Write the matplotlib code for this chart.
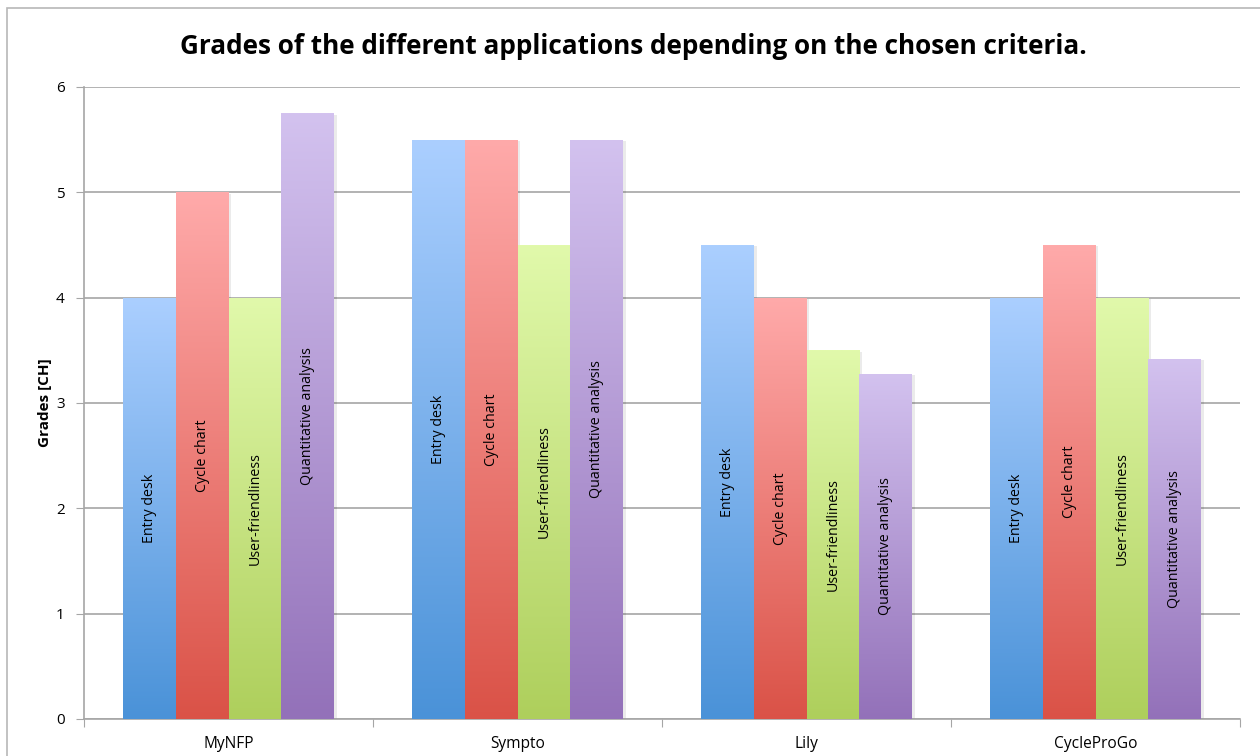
import numpy as np
import matplotlib.pyplot as plt
from matplotlib.colors import LinearSegmentedColormap
from matplotlib.patches import Rectangle
import matplotlib.patheffects as pe

plt.rcParams['font.family'] = ['Open Sans', 'DejaVu Sans']

# data
apps = ['MyNFP', 'Sympto', 'Lily', 'CycleProGo']
criteria = ['Entry desk', 'Cycle chart', 'User-friendliness', 'Quantitative analysis']
entry_desk = [4.0, 5.5, 4.5, 4.0]
cycle_chart = [5.0, 5.5, 4.0, 4.5]
user_friendliness = [4.0, 4.5, 3.5, 4.0]
quant_analysis = [5.75, 5.5, 3.28, 3.42]
series = [entry_desk, cycle_chart, user_friendliness, quant_analysis]

# gradient colours (top, bottom) for each criterion
grads = [('#abcfff', '#4a92d8'),
         ('#ffaaaa', '#da5247'),
         ('#e1f9ab', '#aecf5c'),
         ('#d3c2ef', '#9371b9')]

fig = plt.figure(figsize=(12.6, 7.56), dpi=100)
fig.patches.append(Rectangle((7 / 1260, -0.1), 1.2, 1 - 8 / 756 + 0.1,
                             transform=fig.transFigure, fill=False,
                             edgecolor='#b8b8b8', lw=1.2))
ax = fig.add_axes([84 / 1260, 1 - 719 / 756, 1156 / 1260, 632 / 756])

x = np.arange(len(apps))
w = 0.1825
grad = np.linspace(0, 1, 256).reshape(-1, 1)

for i, vals in enumerate(series):
    pos = x + (i - 1.5) * w
    bars = ax.bar(pos, vals, width=w, color='white', zorder=2,
                  path_effects=[pe.SimplePatchShadow(offset=(2, -1), alpha=0.08, shadow_rgbFace='k'),
                                pe.Normal()])
    cmap = LinearSegmentedColormap.from_list('g%d' % i, [grads[i][1], grads[i][0]])
    for b, v, p in zip(bars, vals, pos):
        x0 = b.get_x()
        im = ax.imshow(grad, cmap=cmap, aspect='auto', origin='lower',
                       extent=[x0, x0 + b.get_width(), 0, v], zorder=3)
        im.set_clip_path(b)
        ax.text(p, v / 2, criteria[i], rotation=90, ha='center', va='center',
                fontsize=10.3, zorder=4)

ax.set_xlim(-0.5, len(apps) - 0.5)
ax.set_ylim(0, 6)
ax.set_yticks(range(7))
ax.yaxis.grid(True, color='#a6a6a6', lw=1.2, zorder=0)
ax.set_axisbelow(True)

ax.set_xticks(np.arange(-0.5, len(apps)), [''] * (len(apps) + 1))
ax.set_xticks(x, apps, minor=True)
ax.tick_params(axis='x', which='minor', length=0, pad=12, labelsize=11.2)
ax.tick_params(axis='x', which='major', length=6, color='#a6a6a6')
ax.tick_params(axis='y', length=6, color='#a6a6a6', labelsize=11, pad=8)

for s in ['top', 'right']:
    ax.spines[s].set_visible(False)
for s in ['left', 'bottom']:
    ax.spines[s].set_color('#a6a6a6')
    ax.spines[s].set_linewidth(1.2)

ax.set_ylabel('Grades [CH]', fontsize=11, fontweight='bold', labelpad=3)
fig.text(0.503, 1 - 47 / 756, 'Grades of the different applications depending on the chosen criteria.',
         ha='center', va='center', fontsize=18.8, fontweight='bold')

fig.savefig('out.png', dpi=100)
